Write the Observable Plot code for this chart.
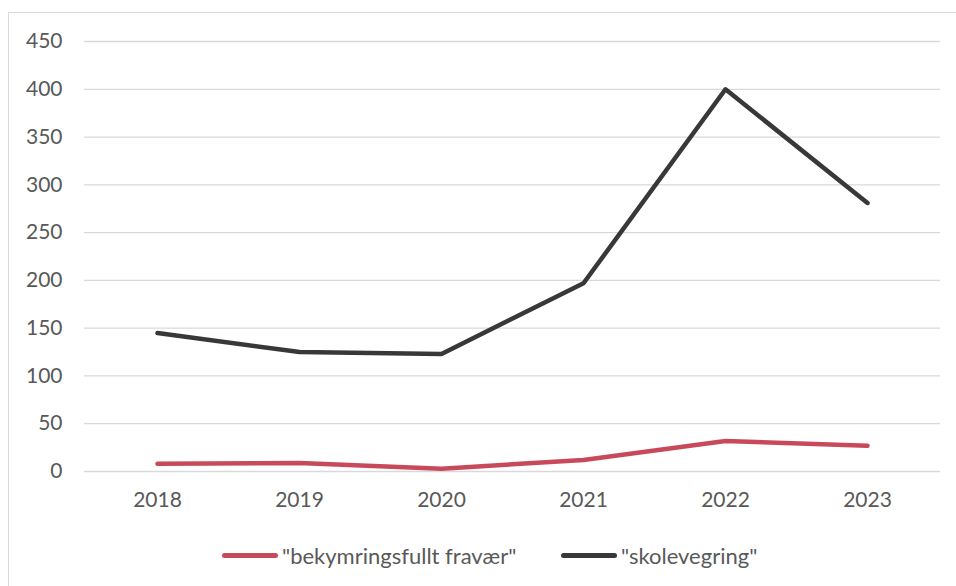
<!DOCTYPE html>
<html>
<head>
<meta charset="utf-8">
<script src="https://cdn.jsdelivr.net/npm/d3@7"></script>
<script src="https://cdn.jsdelivr.net/npm/@observablehq/plot@0.6"></script>
<style>
  html, body { margin: 0; padding: 0; background: #fff; }
  body { width: 956px; height: 586px; position: relative; overflow: hidden; font-family: Lato, "Open Sans", sans-serif; }
  #frame { position: absolute; left: 8px; top: 12px; width: 1000px; height: 1000px; border: 1px solid #d9d9d9; pointer-events: none; }
  #chart { position: absolute; left: 0; top: 0; }
  #legend { position: absolute; left: 0; top: 540px; width: 956px; height: 30px; font-size: 22px; color: #595959; white-space: nowrap; }
  .item { position: absolute; top: 0; height: 30px; display: flex; align-items: center; }
  .sw { width: 56px; height: 5px; border-radius: 3px; margin-right: 4px; }
</style>
</head>
<body>
<div id="frame"></div>
<div id="chart"></div>
<div id="legend"></div>
<script>
const years = ["2018", "2019", "2020", "2021", "2022", "2023"];
const seriesNames = ["\"bekymringsfullt fravær\"", "\"skolevegring\""];
const fravaer = [8, 9, 3, 12, 32, 27];
const skolevegring = [145, 125, 123, 197, 400, 281];
const seriesColors = ["#C84A5A", "#383838"];
const yTicks = [0, 50, 100, 150, 200, 250, 300, 350, 400, 450];
const legendLeft = [222, 561];

const data = [];
years.forEach((y, i) => data.push({year: y, value: fravaer[i], series: seriesNames[0]}));
years.forEach((y, i) => data.push({year: y, value: skolevegring[i], series: seriesNames[1]}));

const chart = Plot.plot({
  width: 956,
  height: 520,
  marginTop: 41,
  marginBottom: 49,
  marginLeft: 84,
  marginRight: 16,
  style: {fontFamily: "Lato, 'Open Sans', sans-serif", fontSize: "21px", color: "#595959", background: "transparent", overflow: "visible"},
  x: {type: "point", domain: years, padding: 0.5, label: null},
  y: {domain: [0, 450], label: null},
  color: {domain: seriesNames, range: seriesColors},
  marks: [
    Plot.gridY(yTicks, {stroke: "#d9d9d9", strokeOpacity: 1, strokeWidth: 1.3}),
    Plot.axisY(yTicks, {tickSize: 0, tickPadding: 22, label: null}),
    Plot.axisX({tickSize: 0, tickPadding: 21, label: null}),
    Plot.line(data, {x: "year", y: "value", z: "series", stroke: "series", strokeWidth: 4.5, strokeLinecap: "round", strokeLinejoin: "round"})
  ]
});
document.getElementById("chart").appendChild(chart);

const legend = document.getElementById("legend");
seriesNames.forEach((name, i) => {
  const item = document.createElement("div");
  item.className = "item";
  item.style.left = legendLeft[i] + "px";
  const sw = document.createElement("span");
  sw.className = "sw";
  sw.style.background = seriesColors[i];
  const label = document.createElement("span");
  label.textContent = name;
  item.appendChild(sw);
  item.appendChild(label);
  legend.appendChild(item);
});
</script>
</body>
</html>
